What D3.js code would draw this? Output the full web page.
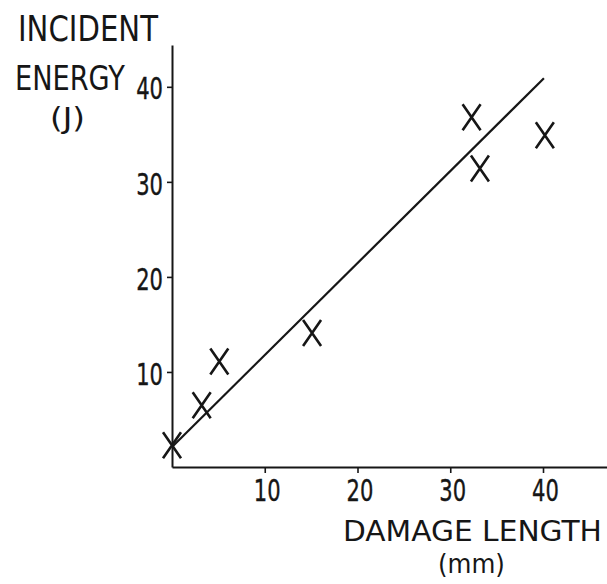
<!DOCTYPE html>
<html>
<head>
<meta charset="utf-8">
<script src="https://cdn.jsdelivr.net/npm/d3@7/dist/d3.min.js"></script>
<style>
  html, body { margin: 0; padding: 0; background: #ffffff; }
  svg { display: block; }
  text { font-family: "DejaVu Sans", "Liberation Sans", sans-serif; fill: #161616; }
  .tick text { stroke: #161616; stroke-width: 0.4px; }
</style>
</head>
<body>
<svg id="chart" width="607" height="584"></svg>
<script>
// Data
const damageLength = [0.0, 3.2, 5.1, 15.1, 32.3, 33.2, 40.2];   // mm
const incidentEnergy = [2.3, 6.5, 11.1, 14.1, 36.8, 31.4, 34.9]; // J
const fitLineX = [0.0, 40.1];
const fitLineY = [2.1, 40.9];
const xTicks = [10, 20, 30, 40];
const yTicks = [10, 20, 30, 40];
const yTitleLines = ["INCIDENT", "ENERGY", "(J)"];
const xTitleLines = ["DAMAGE LENGTH", "(mm)"];

const ink = "#161616";
const svg = d3.select("#chart");

const x = d3.scaleLinear().domain([0, 46.9]).range([172, 607]);
const y = d3.scaleLinear().domain([0, 44.4]).range([467, 45]);

// Axes
const xAxis = d3.axisBottom(x).tickValues(xTicks).tickSizeInner(6).tickSizeOuter(0).tickPadding(5);
const yAxis = d3.axisLeft(y).tickValues(yTicks).tickSizeInner(5).tickSizeOuter(0).tickPadding(5);

const gx = svg.append("g").attr("transform", `translate(0,${y(0)})`).call(xAxis);
const gy = svg.append("g").attr("transform", `translate(${x(0)},0)`).call(yAxis);

const tickSx = 0.68;
[gx, gy].forEach(g => {
  g.select(".domain").attr("stroke", ink).attr("stroke-width", 2);
  g.selectAll(".tick line").attr("stroke", ink).attr("stroke-width", 1.6);
  g.selectAll(".tick text")
    .attr("font-family", null)
    .attr("fill", ink)
    .style("font-size", "31px");
});
gx.selectAll(".tick text")
  .attr("x", 0).attr("y", 0).attr("dy", "0.73em")
  .attr("transform", `translate(2,11) scale(${tickSx},1)`);
gy.selectAll(".tick text")
  .attr("x", 0).attr("y", 0).attr("dy", "0.36em")
  .attr("transform", `translate(-9,1) scale(${tickSx},1)`);

// Fitted line
svg.append("line")
  .attr("x1", x(fitLineX[0])).attr("y1", y(fitLineY[0]))
  .attr("x2", x(fitLineX[1])).attr("y2", y(fitLineY[1]))
  .attr("stroke", ink).attr("stroke-width", 2.2);

// X markers
const pts = damageLength.map((d, i) => ({ x: d, y: incidentEnergy[i] }));
const hw = 9, hh = 13;
svg.append("g").selectAll("path").data(pts).join("path")
  .attr("d", d => {
    const cx = x(d.x), cy = y(d.y);
    return `M${cx - hw},${cy - hh}L${cx + hw},${cy + hh}M${cx + hw},${cy - hh}L${cx - hw},${cy + hh}`;
  })
  .attr("stroke", ink).attr("stroke-width", 2.6).attr("fill", "none");

// Narrow technical lettering: measure natural width, then condense horizontally
function placeText(parent, spec) {
  const t = parent.append("text")
    .attr("x", 0).attr("y", 0)
    .style("font-size", spec.size + "px")
    .text(spec.t);
  const natural = t.node().getComputedTextLength();
  const sx = spec.len / natural;
  t.attr("transform", `translate(${spec.x},${spec.y}) scale(${sx},1)`);
}

// Y title (top-left)
const gyt = svg.append("g");
[
  { t: yTitleLines[0], x: 18, y: 41, size: 35, len: 140 },
  { t: yTitleLines[1], x: 15, y: 90, size: 34, len: 110 },
  { t: yTitleLines[2], x: 50, y: 128, size: 29, len: 35 }
].forEach(s => placeText(gyt, s));

// X title (bottom-right)
const gxt = svg.append("g");
[
  { t: xTitleLines[0], x: 343, y: 541, size: 29, len: 259 },
  { t: xTitleLines[1], x: 438, y: 573, size: 26, len: 67 }
].forEach(s => placeText(gxt, s));
</script>
</body>
</html>
